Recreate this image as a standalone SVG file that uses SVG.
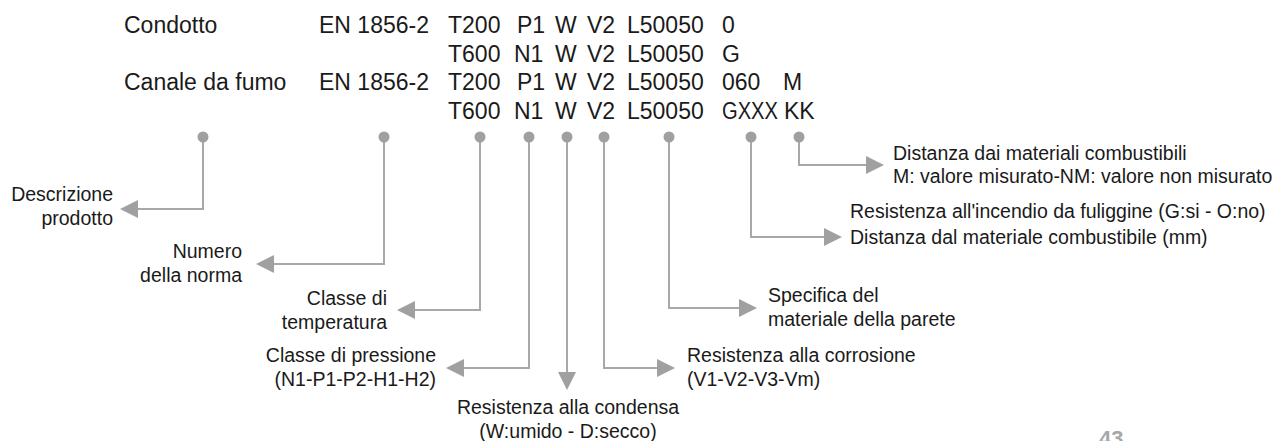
<svg xmlns="http://www.w3.org/2000/svg" width="1287" height="441" viewBox="0 0 1287 441">
  <style>
    text { font-family: "Liberation Sans", Arial, sans-serif; fill: #1a1a1a; }
    .code { font-size: 23px; }
    .lbl { font-size: 19.5px; }
    .end { text-anchor: end; }
    .mid { text-anchor: middle; }
    .conn { fill: none; stroke: #a8a8a8; stroke-width: 2; }
    .dot { fill: #a0a0a0; }
    .page { font-size: 22px; font-weight: bold; fill: #a6a6a6; }
  </style>
  <defs>
    <marker id="arrow" markerUnits="userSpaceOnUse" markerWidth="18" markerHeight="18" refX="0" refY="9" orient="auto" viewBox="0 0 18 18">
      <path d="M0,0 L18,9 L0,18 Z" fill="#a0a0a0"/>
    </marker>
  </defs>

  <rect width="1287" height="441" fill="#ffffff"/>

  <g id="code-rows" class="code">
    <text x="124" y="33">Condotto</text>
    <text x="319" y="33">EN 1856-2</text>
    <text x="448" y="33">T200</text>
    <text x="517" y="33">P1</text>
    <text x="555" y="33">W</text>
    <text x="587" y="33">V2</text>
    <text x="627" y="33">L50050</text>
    <text x="722" y="33">0</text>

    <text x="448" y="61.5">T600</text>
    <text x="514" y="61.5">N1</text>
    <text x="555" y="61.5">W</text>
    <text x="587" y="61.5">V2</text>
    <text x="627" y="61.5">L50050</text>
    <text x="722" y="61.5">G</text>

    <text x="124" y="90">Canale da fumo</text>
    <text x="319" y="90">EN 1856-2</text>
    <text x="448" y="90">T200</text>
    <text x="517" y="90">P1</text>
    <text x="555" y="90">W</text>
    <text x="587" y="90">V2</text>
    <text x="627" y="90">L50050</text>
    <text x="722" y="90">060</text>
    <text x="783" y="90">M</text>

    <text x="448" y="118.5">T600</text>
    <text x="514" y="118.5">N1</text>
    <text x="555" y="118.5">W</text>
    <text x="587" y="118.5">V2</text>
    <text x="627" y="118.5">L50050</text>
    <text x="722" y="118.5" textLength="56" lengthAdjust="spacingAndGlyphs">GXXX</text>
    <text x="784" y="118.5">KK</text>
  </g>

  <g id="connectors">
    <path class="conn" d="M203,137 V209 H138" marker-end="url(#arrow)"/>
    <path class="conn" d="M384,137 V264 H274" marker-end="url(#arrow)"/>
    <path class="conn" d="M480,137 V310 H415" marker-end="url(#arrow)"/>
    <path class="conn" d="M529,137 V368 H464" marker-end="url(#arrow)"/>
    <path class="conn" d="M567,137 V372" marker-end="url(#arrow)"/>
    <path class="conn" d="M604,137 V368 H657" marker-end="url(#arrow)"/>
    <path class="conn" d="M669,137 V308 H739" marker-end="url(#arrow)"/>
    <path class="conn" d="M751,137 V237 H824" marker-end="url(#arrow)"/>
    <path class="conn" d="M799,137 V165 H866" marker-end="url(#arrow)"/>
    <circle class="dot" cx="203" cy="137" r="5.5"/>
    <circle class="dot" cx="384" cy="137" r="5.5"/>
    <circle class="dot" cx="480" cy="137" r="5.5"/>
    <circle class="dot" cx="529" cy="137" r="5.5"/>
    <circle class="dot" cx="567" cy="137" r="5.5"/>
    <circle class="dot" cx="604" cy="137" r="5.5"/>
    <circle class="dot" cx="669" cy="137" r="5.5"/>
    <circle class="dot" cx="751" cy="137" r="5.5"/>
    <circle class="dot" cx="799" cy="137" r="5.5"/>
  </g>

  <g id="label-descrizione" class="lbl end">
    <text x="113" y="201">Descrizione</text>
    <text x="113" y="225">prodotto</text>
  </g>
  <g id="label-norma" class="lbl end">
    <text x="242" y="258">Numero</text>
    <text x="242" y="282">della norma</text>
  </g>
  <g id="label-temperatura" class="lbl end">
    <text x="387" y="305">Classe di</text>
    <text x="387" y="329">temperatura</text>
  </g>
  <g id="label-pressione" class="lbl end">
    <text x="436" y="361.5">Classe di pressione</text>
    <text x="436" y="386">(N1-P1-P2-H1-H2)</text>
  </g>
  <g id="label-condensa" class="lbl mid">
    <text x="568" y="414">Resistenza alla condensa</text>
    <text x="568" y="438">(W:umido - D:secco)</text>
  </g>
  <g id="label-corrosione" class="lbl">
    <text x="687" y="361.5">Resistenza alla corrosione</text>
    <text x="687" y="386">(V1-V2-V3-Vm)</text>
  </g>
  <g id="label-parete" class="lbl">
    <text x="768" y="301.5">Specifica del</text>
    <text x="768" y="326">materiale della parete</text>
  </g>
  <g id="label-fuliggine" class="lbl">
    <text x="850" y="218">Resistenza all'incendio da fuliggine (G:si - O:no)</text>
    <text x="850" y="244">Distanza dal materiale combustibile (mm)</text>
  </g>
  <g id="label-distanza" class="lbl">
    <text x="893" y="160">Distanza dai materiali combustibili</text>
    <text x="893" y="183">M: valore misurato-NM: valore non misurato</text>
  </g>

  <text class="page" x="1099" y="446">43</text>
</svg>
